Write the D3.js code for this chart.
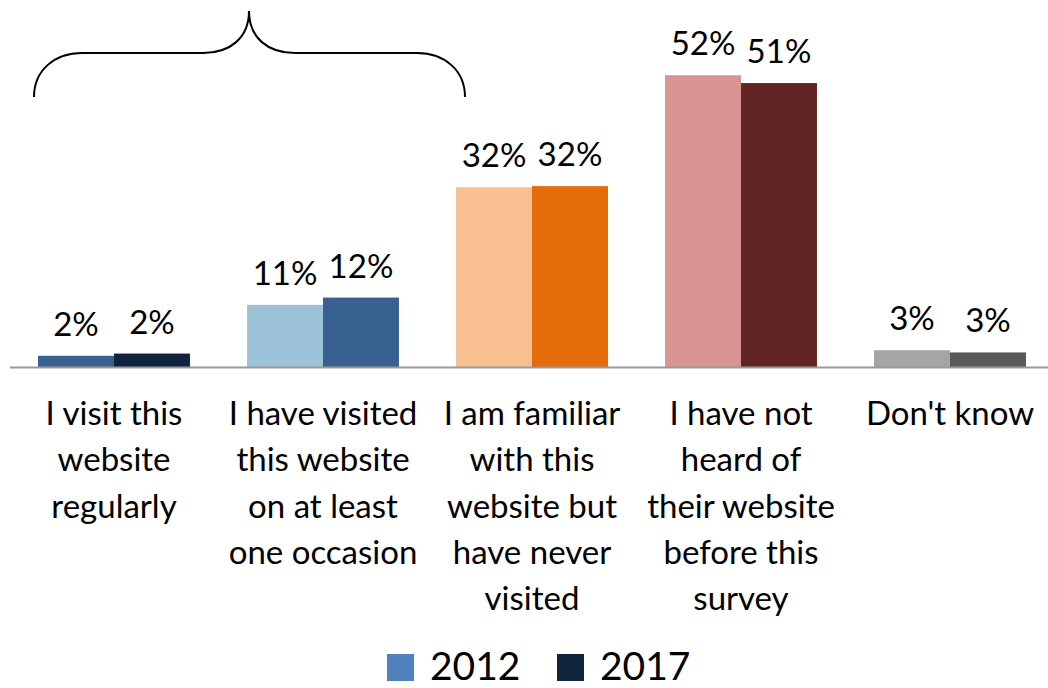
<!DOCTYPE html>
<html>
<head>
<meta charset="utf-8">
<script src="https://cdn.jsdelivr.net/npm/d3@7"></script>
<style>
  html, body { margin: 0; padding: 0; background: #fff; }
  svg { display: block; }
  text { font-family: Lato, "Open Sans", sans-serif; fill: #000; }
</style>
</head>
<body>
<div id="chart"></div>
<script>
// ---- data ----
const categories = [
  ["I visit this", "website", "regularly"],
  ["I have visited", "this website", "on at least", "one occasion"],
  ["I am familiar", "with this", "website but", "have never", "visited"],
  ["I have not", "heard of", "their website", "before this", "survey"],
  ["Don't know"]
];
const seriesNames = ["2012", "2017"];
const values2012 = [2.0, 11.1, 32.1, 52.1, 3.0];
const values2017 = [2.4, 12.4, 32.3, 50.7, 2.6];
const colors2012 = ["#386192", "#9dc3d9", "#f8c091", "#d99594", "#a5a5a5"];
const colors2017 = ["#11243f", "#386192", "#e46c0a", "#632523", "#595959"];
const legendColors = ["#4f81bd", "#10243e"];

const W = 1048, H = 688;
const svg = d3.select("#chart").append("svg").attr("width", W).attr("height", H);

const x0 = d3.scaleBand().domain(d3.range(categories.length))
  .range([9.5, 1054.5]).paddingInner(0.273).paddingOuter(0.1365);
const x1 = d3.scaleBand().domain(seriesNames).range([0, x0.bandwidth()]);
const y = d3.scaleLinear().domain([0, 60]).range([367, 31]);

const rows = categories.map((c, i) => ({
  i, vals: [values2012[i], values2017[i]], cols: [colors2012[i], colors2017[i]]
}));

const g = svg.append("g");
const groups = g.selectAll("g.grp").data(rows).join("g")
  .attr("transform", d => `translate(${x0(d.i)},0)`);

groups.selectAll("rect").data(d => d.vals.map((v, k) => ({v, k, c: d.cols[k]})))
  .join("rect")
  .attr("x", d => x1(seriesNames[d.k]))
  .attr("width", x1.bandwidth())
  .attr("y", d => y(d.v))
  .attr("height", d => y(0) - y(d.v))
  .attr("fill", d => d.c);

groups.selectAll("text.val").data(d => d.vals.map((v, k) => ({v, k})))
  .join("text").attr("class", "val")
  .attr("x", d => x1(seriesNames[d.k]) + x1.bandwidth() / 2)
  .attr("y", d => y(d.v) - 20)
  .attr("text-anchor", "middle")
  .style("font-size", "33px")
  .text(d => Math.round(d.v) + "%");

// axis line
svg.append("line").attr("x1", 10).attr("x2", W).attr("y1", y(0) + 0.5).attr("y2", y(0) + 0.5)
  .attr("stroke", "#999").attr("stroke-width", 2);

// category labels
const lab = svg.append("g");
categories.forEach((lines, i) => {
  const t = lab.append("text")
    .attr("text-anchor", "middle")
    .style("font-size", "33px")
    .attr("transform", `translate(${x0(i) + x0.bandwidth() / 2},425)`);
  lines.forEach((ln, j) => {
    t.append("tspan").attr("x", 0).attr("y", j * 46.3).text(ln);
  });
});

// brace
const p = d3.path();
p.moveTo(34, 97);
p.bezierCurveTo(34, 70, 55, 53, 82, 53);
p.lineTo(203, 53);
p.bezierCurveTo(230, 53, 249, 38, 249, 11);
p.bezierCurveTo(249, 38, 268, 53, 295, 53);
p.lineTo(417, 53);
p.bezierCurveTo(444, 53, 465, 70, 465, 97);
svg.append("path").attr("d", p.toString()).attr("fill", "none")
  .attr("stroke", "#000").attr("stroke-width", 2);

// legend
const legX = [387, 557];
const leg = svg.append("g");
seriesNames.forEach((s, k) => {
  leg.append("rect").attr("x", legX[k]).attr("y", 654).attr("width", 27).attr("height", 27)
    .attr("fill", legendColors[k]);
  leg.append("text").attr("x", legX[k] + 43).attr("y", 680)
    .style("font-size", "39px").text(s);
});
</script>
</body>
</html>
